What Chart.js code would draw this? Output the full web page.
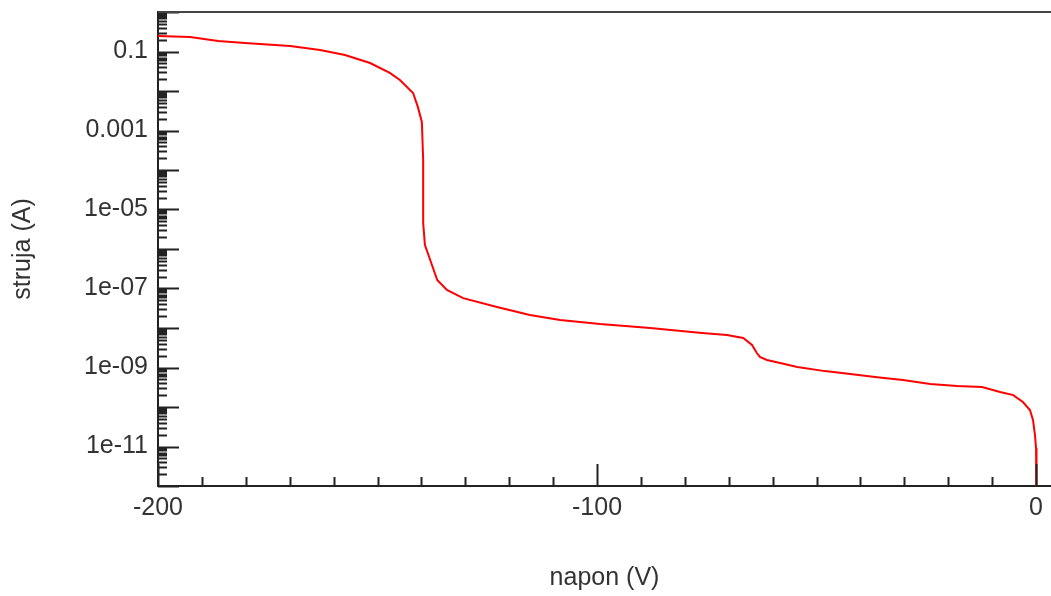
<!DOCTYPE html>
<html>
<head>
<meta charset="utf-8">
<script src="https://cdn.jsdelivr.net/npm/chart.js@4"></script>
<style>
  html, body { margin: 0; padding: 0; background: #fff; }
  #wrap { width: 1051px; height: 596px; }
</style>
</head>
<body>
<div id="wrap"><canvas id="chart" width="1051" height="596"></canvas></div>
<script>
// napon (V) vs struja (A)
const voltage = [
    -200, -192.7, -186.3, -180.2, -169.9, -163.1, -157.4, -151.7, -147.2, -144.9,
    -141.9, -140.8, -139.9, -139.6, -139.6, -139.2, -138.0, -136.4, -134.2, -130.5,
    -122.8, -115.3, -108.4, -99.3, -87.9, -76.1, -70.4, -66.7, -64.7, -63.6,
    -62.9, -61.3, -58.3, -54.4, -48.1, -44.2, -36.2, -30.3, -24.1, -18.0,
    -12.3, -8.2, -5.2, -3.0, -1.4, -0.7, -0.25, 0, 0.1
];
const current = [
    0.247, 0.233, 0.184, 0.164, 0.138, 0.109, 0.0815, 0.0512, 0.0286, 0.019,
    0.0089, 0.0039, 0.00164, 1.79e-4, 4.5e-6, 1.26e-6, 5.27e-7, 1.64e-7, 9.2e-8, 5.7e-8,
    3.4e-8, 2.13e-8, 1.6e-8, 1.26e-8, 1.0e-8, 7.5e-9, 6.65e-9, 5.58e-9, 3.72e-9, 2.33e-9,
    1.85e-9, 1.55e-9, 1.3e-9, 1.03e-9, 8.1e-10, 7.3e-10, 5.7e-10, 4.8e-10, 3.8e-10, 3.4e-10,
    3.2e-10, 2.4e-10, 2.0e-10, 1.34e-10, 8.4e-11, 4.7e-11, 1.95e-11, 9e-12, 1e-13
];

const xTickValues = [-200, -100, 0];
const xTickLabels = ['-200', '-100', '0'];
const yTickValues = [1e-11, 1e-9, 1e-7, 1e-5, 1e-3, 1e-1];
const yTickLabels = ['1e-11', '1e-09', '1e-07', '1e-05', '0.001', '0.1'];

const FONT = "'Liberation Sans', Arial, sans-serif";
const TEXT = '#333';
const AXIS = '#222';

/**
 * Tick marks drawn on the inside of the plot, plus the top frame line
 */
const insideTicks = {
    id: 'insideTicks',
    afterDraw(chart) {
        const { ctx, chartArea, scales } = chart;
        const x = scales.x, y = scales.y;
        ctx.save();
        ctx.strokeStyle = AXIS;
        ctx.lineWidth = 2;
        ctx.beginPath();

        // y axis: major tick each decade, minor at 2..9
        for (let e = -12; e <= 0; e++) {
            const major = Math.pow(10, e);
            const py = Math.round(y.getPixelForValue(major)) + 0.5;
            ctx.moveTo(chartArea.left, py);
            ctx.lineTo(chartArea.left + 21, py);
            for (let k = 2; k <= 9 && e < 0; k++) {
                const my = Math.round(y.getPixelForValue(k * major)) + 0.5;
                ctx.moveTo(chartArea.left, my);
                ctx.lineTo(chartArea.left + 9, my);
            }
        }

        // x axis: minor every 10, major every 100
        for (let v = -200; v <= 0; v += 10) {
            const px = Math.round(x.getPixelForValue(v)) + 0.5;
            const len = v % 100 === 0 ? 22 : 9;
            ctx.moveTo(px, chartArea.bottom);
            ctx.lineTo(px, chartArea.bottom - len);
        }
        ctx.stroke();

        // top frame line
        ctx.beginPath();
        ctx.strokeStyle = '#444';
        ctx.moveTo(chartArea.left, chartArea.top);
        ctx.lineTo(chartArea.right, chartArea.top);
        ctx.stroke();
        ctx.restore();
    }
};

new Chart(document.getElementById('chart'), {
    type: 'line',
    data: {
        datasets: [{
            data: voltage.map((v, i) => ({ x: v, y: current[i] })),
            borderColor: '#ff0000',
            borderWidth: 2,
            pointRadius: 0,
            tension: 0,
            fill: false
        }]
    },
    options: {
        responsive: false,
        animation: false,
        layout: { padding: { top: 12, right: 0, left: 0, bottom: 0 } },
        plugins: {
            legend: { display: false },
            tooltip: { enabled: false }
        },
        scales: {
            x: {
                type: 'linear',
                min: -200,
                max: 3.4,
                afterBuildTicks: s => { s.ticks = xTickValues.map(v => ({ value: v })); },
                afterFit: s => { s.height = 110; s.paddingLeft = 0; s.paddingRight = 0; },
                grid: { display: false, drawTicks: false },
                border: { display: true, color: AXIS, width: 2 },
                ticks: {
                    padding: 7,
                    color: TEXT,
                    font: { family: FONT, size: 25 },
                    maxRotation: 0,
                    callback: v => xTickLabels[xTickValues.indexOf(v)]
                },
                title: {
                    display: true,
                    text: 'napon (V)',
                    color: TEXT,
                    font: { family: FONT, size: 25 },
                    padding: { top: 0, bottom: 3 }
                }
            },
            y: {
                type: 'logarithmic',
                min: 1e-12,
                max: 1,
                afterBuildTicks: s => { s.ticks = yTickValues.map(v => ({ value: v })); },
                afterFit: s => { s.width = 158; s.paddingTop = 0; s.paddingBottom = 0; },
                grid: { display: false, drawTicks: false },
                border: { display: true, color: AXIS, width: 2 },
                ticks: {
                    padding: 10,
                    color: TEXT,
                    font: { family: FONT, size: 25 },
                    callback: v => {
                        const i = yTickValues.findIndex(t => Math.abs(Math.log10(t) - Math.log10(v)) < 1e-6);
                        return i >= 0 ? yTickLabels[i] : '';
                    }
                },
                title: {
                    display: true,
                    text: 'struja (A)',
                    color: TEXT,
                    font: { family: FONT, size: 25 },
                    padding: { top: 8, bottom: 0 }
                }
            }
        }
    },
    plugins: [insideTicks]
});
</script>
</body>
</html>
